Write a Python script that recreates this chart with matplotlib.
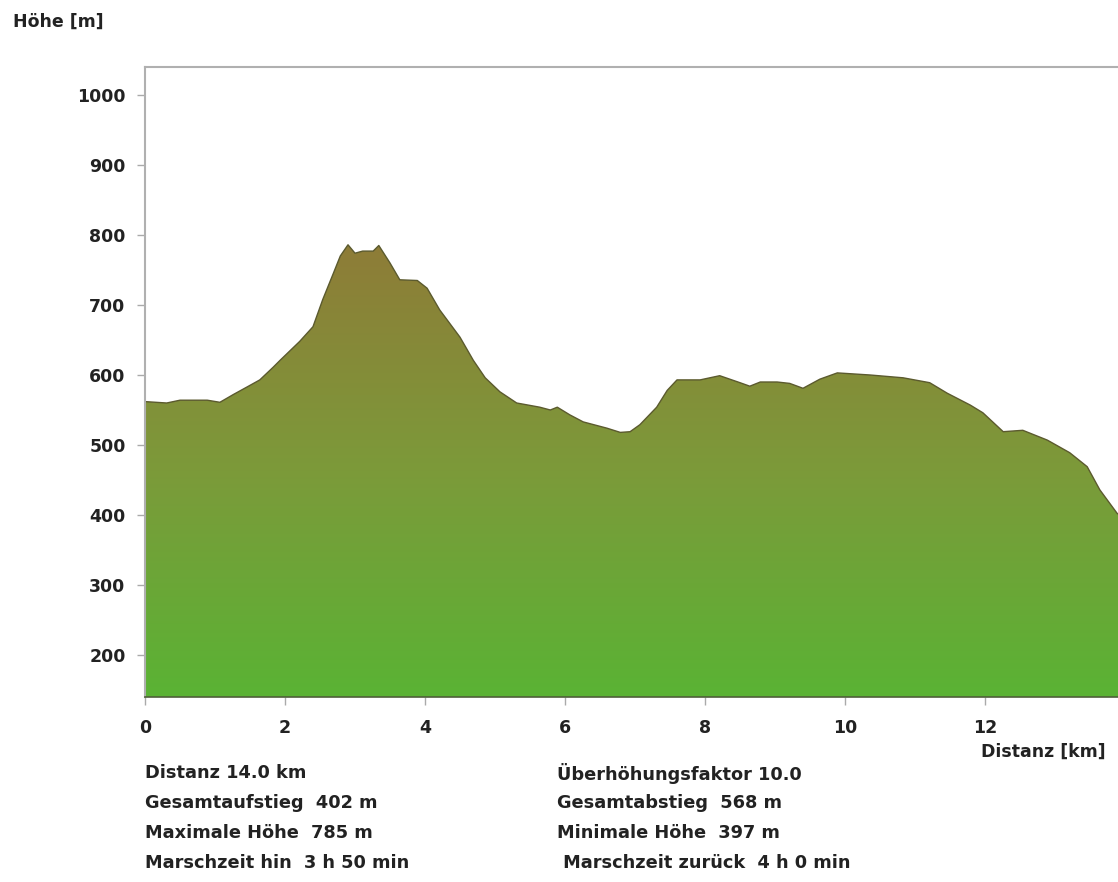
import numpy as np
import matplotlib.pyplot as plt
from matplotlib.colors import LinearSegmentedColormap

# profile
dist_km = [0.00, 0.31, 0.50, 0.89, 1.07, 1.26, 1.46, 1.64, 1.83, 1.93,
           2.21, 2.40, 2.54, 2.69, 2.79, 2.90, 3.00, 3.11, 3.26, 3.34,
           3.50, 3.64, 3.89, 4.03, 4.21, 4.50, 4.69, 4.86, 5.07, 5.31,
           5.64, 5.79, 5.89, 6.07, 6.26, 6.60, 6.79, 6.93, 7.07, 7.31,
           7.46, 7.60, 7.93, 8.21, 8.50, 8.64, 8.79, 9.03, 9.21, 9.40,
           9.64, 9.89, 10.36, 10.83, 11.21, 11.46, 11.79, 11.97, 12.26, 12.54,
           12.89, 13.21, 13.46, 13.64, 13.89, 14.00]
hoehe_m = [562, 560, 564, 564, 561, 572, 583, 593, 611, 621,
           648, 669, 708, 745, 770, 786, 774, 777, 777, 785,
           760, 736, 735, 724, 693, 654, 621, 596, 576, 560,
           554, 550, 554, 543, 533, 524, 518, 519, 529, 554,
           578, 593, 593, 599, 589, 584, 590, 590, 588, 581,
           594, 603, 600, 596, 589, 574, 557, 546, 519, 521,
           507, 489, 469, 436, 402, 397]

yticks = [200, 300, 400, 500, 600, 700, 800, 900, 1000]
xticks = [0, 2, 4, 6, 8, 10, 12]

left_info = ["Distanz 14.0 km", "Gesamtaufstieg  402 m",
             "Maximale Höhe  785 m", "Marschzeit hin  3 h 50 min"]
right_info = ["Überhöhungsfaktor 10.0", "Gesamtabstieg  568 m",
              "Minimale Höhe  397 m", " Marschzeit zurück  4 h 0 min"]

txt = '#222222'
plt.rcParams['font.family'] = 'DejaVu Sans'

fig = plt.figure(figsize=(11.18, 8.82), dpi=100)
ax = fig.add_axes([145/1118, 185/882, 980/1118, 630/882])

ymin, ymax = 140, 1040
x = np.array(dist_km)
y = np.array(hoehe_m)

# gradient fill: green at the bottom, olive-brown at the top
cmap = LinearSegmentedColormap.from_list('hang', ['#5ab334', '#7c9a3a', '#8e7c37'])
poly = ax.fill_between(x, ymin, y, color='none', lw=0)
grad = np.linspace(0, 1, 256).reshape(-1, 1)
im = ax.imshow(grad, cmap=cmap, origin='lower', aspect='auto',
               extent=[0, 14, ymin, max(hoehe_m)], zorder=1)
im.set_clip_path(poly.get_paths()[0], transform=ax.transData)
ax.plot(x, y, color='#5b5a2e', lw=1.0, zorder=2)

ax.set_xlim(0, 14)
ax.set_ylim(ymin, ymax)
ax.set_xticks(xticks)
ax.set_yticks(yticks)
ax.tick_params(colors='#aaaaaa', labelcolor=txt, length=6, width=1,
               labelsize=12.5)
ax.tick_params(axis='y', pad=8)
ax.tick_params(axis='x', pad=10)
for lab in ax.get_xticklabels() + ax.get_yticklabels():
    lab.set_fontweight('bold')

for s in ['left', 'top']:
    ax.spines[s].set_color('#b0b0b0')
    ax.spines[s].set_linewidth(1.5)
ax.spines['bottom'].set_color('#4f5f3a')
ax.spines['bottom'].set_linewidth(1.2)
ax.spines['right'].set_visible(False)

fig.text(13/1118, 1 - 22/882, "Höhe [m]", fontsize=12.5, fontweight='bold',
         color=txt, va='center', ha='left')
fig.text(1106/1118, 1 - 752/882, "Distanz [km]", fontsize=12.5, fontweight='bold',
         color=txt, va='center', ha='right')

for i, (a, b) in enumerate(zip(left_info, right_info)):
    yy = 1 - (773 + 30*i)/882
    fig.text(145/1118, yy, a, fontsize=12.8, fontweight='bold', color=txt, va='center')
    fig.text(557/1118, yy, b, fontsize=12.8, fontweight='bold', color=txt, va='center')

fig.savefig('out.png', dpi=100)
